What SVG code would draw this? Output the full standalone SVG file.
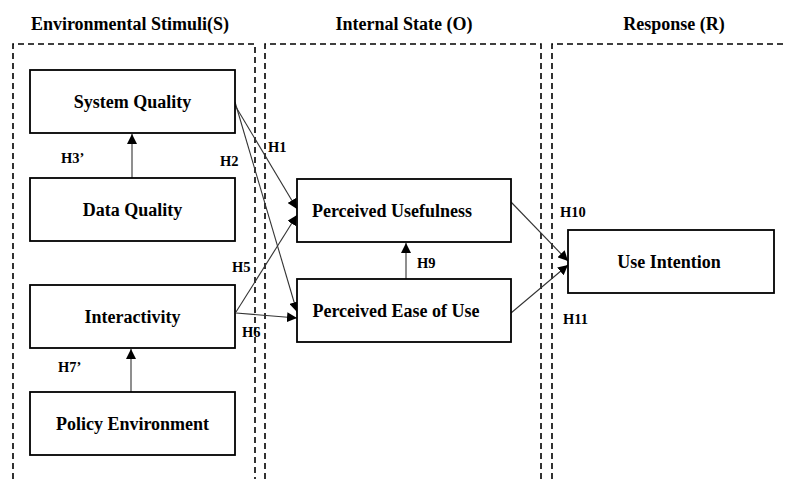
<svg xmlns="http://www.w3.org/2000/svg" width="786" height="479" viewBox="0 0 786 479">
<style>
.frame{fill:none;stroke:#000;stroke-width:1.6;stroke-dasharray:6,4}
.box{fill:#fff;stroke:#000;stroke-width:1.8}
.lbl{font-family:"Liberation Serif","Times New Roman",serif;font-weight:bold;font-size:18px;fill:#000;text-anchor:middle;dominant-baseline:central}
.hl{font-family:"Liberation Serif","Times New Roman",serif;font-weight:bold;font-size:14.5px;fill:#000;dominant-baseline:central}
.ttl{font-family:"Liberation Serif","Times New Roman",serif;font-weight:bold;font-size:18px;fill:#000;text-anchor:middle}
.conn{stroke:#333;stroke-width:1.1;fill:none;marker-end:url(#ah)}
</style>
<defs>
<marker id="ah" viewBox="0 0 10 10" refX="10" refY="5" markerWidth="10" markerHeight="10" markerUnits="userSpaceOnUse" orient="auto">
<path d="M0,0 L10,5 L0,10 z" fill="#000"/>
</marker>
</defs>
<rect width="786" height="479" fill="#fff"/>
<g id="frames">
<path class="frame" d="M13,479 V44 H255 V479"/>
<path class="frame" d="M265,479 V44 H541 V479"/>
<path class="frame" d="M552,479 V44 H786"/>
<text class="ttl" x="130" y="30">Environmental Stimuli(S)</text>
<text class="ttl" x="404" y="30">Internal State (O)</text>
<text class="ttl" x="674" y="30">Response (R)</text>
</g>
<g id="connectors">
<line class="conn" x1="233" y1="102" x2="297" y2="209"/>
<line class="conn" x1="235" y1="102" x2="297" y2="312"/>
<line class="conn" x1="236" y1="312" x2="297" y2="215"/>
<line class="conn" x1="236" y1="313" x2="297" y2="318"/>
<line class="conn" x1="406" y1="279" x2="406" y2="243"/>
<line class="conn" x1="132" y1="178" x2="132" y2="134"/>
<line class="conn" x1="131" y1="392" x2="131" y2="349"/>
<line class="conn" x1="511" y1="202" x2="568" y2="261"/>
<line class="conn" x1="511" y1="313" x2="568" y2="265"/>
<text class="hl" x="268" y="147">H1</text>
<text class="hl" x="220" y="161">H2</text>
<text class="hl" x="61" y="158">H3’</text>
<text class="hl" x="232" y="267">H5</text>
<text class="hl" x="242" y="332">H6</text>
<text class="hl" x="58" y="367">H7’</text>
<text class="hl" x="417" y="263">H9</text>
<text class="hl" x="560" y="212">H10</text>
<text class="hl" x="563" y="319">H11</text>
</g>
<g id="system-quality"><rect class="box" x="30" y="70" width="205" height="63"/><text class="lbl" x="132.5" y="102">System Quality</text></g>
<g id="data-quality"><rect class="box" x="30" y="178" width="205" height="63"/><text class="lbl" x="132.5" y="210">Data Quality</text></g>
<g id="interactivity"><rect class="box" x="30" y="285" width="205" height="63"/><text class="lbl" x="132.5" y="317">Interactivity</text></g>
<g id="policy-environment"><rect class="box" x="30" y="392" width="205" height="63"/><text class="lbl" x="132.5" y="424">Policy Environment</text></g>
<g id="perceived-usefulness"><rect class="box" x="297" y="179" width="214" height="63"/><text class="lbl" x="392" y="211">Perceived Usefulness</text></g>
<g id="perceived-ease"><rect class="box" x="297" y="279" width="214" height="63"/><text class="lbl" x="396" y="311">Perceived Ease of Use</text></g>
<g id="use-intention"><rect class="box" x="568" y="230" width="206" height="63"/><text class="lbl" x="669" y="262">Use Intention</text></g>
</svg>
